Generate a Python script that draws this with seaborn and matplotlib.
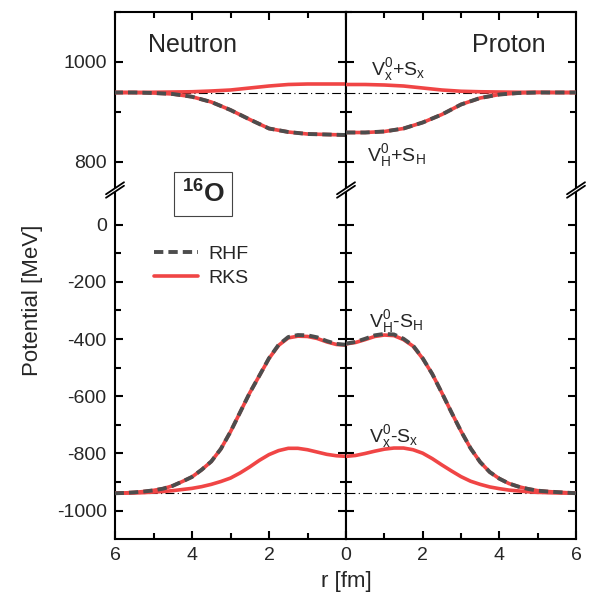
import matplotlib

matplotlib.use("Agg")
import matplotlib.pyplot as plt
import numpy as np
import pandas as pd
import seaborn as sns
from matplotlib.patches import Polygon

# ---------------------------------------------------------------------------
# data (r in fm, potentials in MeV)
# ---------------------------------------------------------------------------
r_fine = [0.0, 0.25, 0.5, 0.75, 1.0, 1.25, 1.5, 1.75, 2.0, 2.25, 2.5, 2.75, 3.0,
          3.25, 3.5, 3.75, 4.0, 4.25, 4.5, 4.75, 5.0, 5.25, 5.5, 5.75, 6.0]
r_coarse = [0.0, 0.5, 1.0, 1.5, 2.0, 2.5, 3.0, 3.5, 4.0, 4.5, 5.0, 5.5, 6.0]

# neutron, upper part
n_vx_plus = [956, 956, 956, 955, 952, 948, 944, 942, 940.5, 940, 939.5, 939, 939]
n_vh_plus_rks = [854, 855, 856, 860, 867, 885, 904, 920, 930.5, 936, 938, 939, 939]
n_vh_plus_rhf = [854, 855, 856, 860, 867, 885, 904, 920, 930.5, 936, 938, 939, 939]
# proton, upper part
p_vx_plus = [955, 955, 954, 952, 948, 944, 941.5, 940.5, 940, 939.5, 939.5, 939, 939]
p_vh_plus_rks = [859, 859, 861, 867, 879, 895, 915, 928, 935, 938, 939, 939, 939]
p_vh_plus_rhf = [859, 859, 861, 867, 879, 895, 915, 928, 935, 938, 939, 939, 939]

# neutron, lower part
n_vh_minus_rks = [-421, -419, -410, -398, -391, -390, -396, -422, -468, -528, -588, -656,
                  -724, -784, -828, -857, -882, -898, -913, -923, -929, -933, -936, -938, -939]
n_vh_minus_rhf = [-420, -417, -407, -394, -387, -386, -393, -420, -467, -528, -588, -656,
                  -724, -784, -828, -857, -882, -898, -913, -923, -929, -933, -936, -938, -939]
n_vx_minus = [-810, -808, -803, -795, -787, -782, -782, -790, -804, -824, -847, -868,
              -886, -898, -908, -916, -922, -926, -930, -933, -935, -937, -938, -938.5, -939]
# proton, lower part
p_vh_minus_rks = [-417, -412, -402, -391, -386, -388, -402, -425, -468, -522, -588, -656,
                  -722, -782, -830, -865, -888, -905, -916, -924, -930, -933, -935, -937, -939]
p_vh_minus_rhf = [-416, -410, -399, -387, -382, -384, -399, -423, -467, -522, -588, -656,
                  -722, -782, -830, -865, -888, -905, -916, -924, -930, -933, -935, -937, -939]
p_vx_minus = [-810, -807, -800, -792, -785, -781, -781, -787, -799, -818, -840, -861,
              -881, -897, -908, -917, -923, -928, -931, -934, -936, -937, -938, -938.5, -939]

nucleon_mass = 939

RED = "#f04545"
GRAY = "#4d4d4d"

sns.set_theme(style="ticks")
plt.rcParams["font.family"] = ["Liberation Sans", "DejaVu Sans"]
plt.rcParams["mathtext.fontset"] = "custom"
plt.rcParams["mathtext.rm"] = "Liberation Sans"
plt.rcParams["mathtext.it"] = "Liberation Sans"
plt.rcParams["mathtext.bf"] = "Liberation Sans:bold"
plt.rcParams["mathtext.default"] = "regular"
plt.rcParams["axes.unicode_minus"] = False

fig = plt.figure(figsize=(5.99, 5.98), dpi=100)

L, M, R = 115 / 599, 346 / 599, 576 / 599
TOP, BRK, BOT = 1 - 12 / 598, 1 - 190 / 598, 1 - 539 / 598

ax_tn = fig.add_axes([L, BRK, M - L, TOP - BRK])
ax_tp = fig.add_axes([M, BRK, R - M, TOP - BRK])
ax_bn = fig.add_axes([L, BOT, M - L, BRK - BOT])
ax_bp = fig.add_axes([M, BOT, R - M, BRK - BOT])


def curve(ax, r, v, **kw):
    df = pd.DataFrame({"r": r, "v": v})
    sns.lineplot(data=df, x="r", y="v", ax=ax, legend=False, **kw)


dash_kw = dict(color=GRAY, lw=2.8, dashes=(2.4, 1.3), zorder=4)
red_kw = dict(color=RED, lw=2.6, zorder=3)

# upper panels
curve(ax_tn, r_coarse, n_vx_plus, **red_kw)
curve(ax_tn, r_coarse, n_vh_plus_rks, **red_kw)
curve(ax_tn, r_coarse, n_vh_plus_rhf, **dash_kw)
curve(ax_tp, r_coarse, p_vx_plus, **red_kw)
curve(ax_tp, r_coarse, p_vh_plus_rks, **red_kw)
curve(ax_tp, r_coarse, p_vh_plus_rhf, **dash_kw)

# lower panels
curve(ax_bn, r_fine, n_vh_minus_rks, **red_kw)
curve(ax_bn, r_fine, n_vh_minus_rhf, **dash_kw)
curve(ax_bn, r_fine, n_vx_minus, **red_kw)
curve(ax_bp, r_fine, p_vh_minus_rks, **red_kw)
curve(ax_bp, r_fine, p_vh_minus_rhf, **dash_kw)
curve(ax_bp, r_fine, p_vx_minus, **red_kw)

for ax in (ax_tn, ax_tp):
    ax.axhline(nucleon_mass, color="black", lw=0.8, ls=(0, (8, 3, 1, 3)), zorder=2)
for ax in (ax_bn, ax_bp):
    ax.axhline(-nucleon_mass, color="black", lw=0.8, ls=(0, (8, 3, 1, 3)), zorder=2)

# axes limits and ticks
for ax in (ax_tn, ax_bn):
    ax.set_xlim(6, 0)
for ax in (ax_tp, ax_bp):
    ax.set_xlim(0, 6)
for ax in (ax_tn, ax_tp):
    ax.set_ylim(744, 1100)
    ax.set_yticks([800, 1000])
    ax.set_yticks([900, 1100], minor=True)
    ax.spines["bottom"].set_visible(False)
for ax in (ax_bn, ax_bp):
    ax.set_ylim(-1099, 121)
    ax.set_yticks(np.arange(-1000, 1, 200))
    ax.set_yticks(np.arange(-900, -99, 200), minor=True)
    ax.spines["top"].set_visible(False)

for ax in (ax_tn, ax_tp, ax_bn, ax_bp):
    ax.set_xticks([0, 2, 4, 6])
    ax.set_xticks([1, 3, 5], minor=True)
    for s in ax.spines.values():
        s.set_linewidth(1.5)
        s.set_color("black")
    ax.tick_params(which="both", direction="in", left=True, right=True,
                   width=1.5, color="black", labelsize=14, pad=6)
    ax.tick_params(which="major", length=6)
    ax.tick_params(which="minor", length=4)
    ax.set_xlabel("")
    ax.set_ylabel("")

ax_tn.tick_params(which="both", top=True, bottom=False, labelbottom=False)
ax_tp.tick_params(which="both", top=True, bottom=False, labelbottom=False, labelleft=False)
ax_bn.tick_params(which="both", top=False, bottom=True)
ax_bp.tick_params(which="both", top=False, bottom=True, labelleft=False)
ax_bp.set_xticklabels(["", "2", "4", "6"])

# titles and curve labels
ax_tn.text(3.98, 1034, "Neutron", fontsize=18, ha="center", va="center")
ax_tp.text(4.25, 1034, "Proton", fontsize=18, ha="center", va="center")
ax_tp.text(0.65, 984, r"V$_x^0$+S$_x$", fontsize=14, ha="left", va="center")
ax_tp.text(0.55, 812, r"V$_H^0$+S$_H$", fontsize=14, ha="left", va="center")
ax_bp.text(0.6, -340, r"V$_H^0$-S$_H$", fontsize=14, ha="left", va="center")
ax_bp.text(0.6, -740, r"V$_x^0$-S$_x$", fontsize=14, ha="left", va="center")

fig.text(203 / 599, 1 - 194 / 598, r"$\mathbf{^{16}O}$", fontsize=19, ha="center", va="center",
         bbox=dict(boxstyle="square,pad=0.3", fc="white", ec="#444444", lw=0.8))

# legend
legend_handles = [
    plt.Line2D([], [], color=GRAY, lw=2.8, dashes=(2.4, 1.3)),
    plt.Line2D([], [], color=RED, lw=2.6),
]
ax_bn.legend(legend_handles, ["RHF", "RKS"], loc="upper left",
             bbox_to_anchor=(136 / 599, 1 - 228 / 598), bbox_transform=fig.transFigure,
             frameon=False, fontsize=14, handlelength=2.3, handletextpad=0.5,
             labelspacing=0.3)

fig.text(33 / 599, 1 - 300 / 598, "Potential [MeV]", fontsize=16, rotation=90,
         ha="center", va="center")
fig.text(M, 1 - 582 / 598, "r [fm]", fontsize=16, ha="center", va="center")

# axis break marks
for xf in (L, M, R):
    cx = xf * 599
    cy = 190
    dx, dy, gap = 9, 6, 3.5
    pts = [(cx - dx, cy + dy + gap / 2), (cx + dx, cy - dy + gap / 2),
           (cx + dx, cy - dy - gap / 2), (cx - dx, cy + dy - gap / 2)]
    fig.patches.append(Polygon([(x / 599, 1 - y / 598) for x, y in pts], closed=True,
                               fc="white", ec="none", transform=fig.transFigure, zorder=10))
    for off in (gap / 2, -gap / 2):
        fig.lines.append(plt.Line2D([(cx - dx) / 599, (cx + dx) / 599],
                                    [1 - (cy + dy + off) / 598, 1 - (cy - dy + off) / 598],
                                    color="black", lw=1.3, transform=fig.transFigure,
                                    zorder=11))

fig.savefig("out.png", dpi=100)
